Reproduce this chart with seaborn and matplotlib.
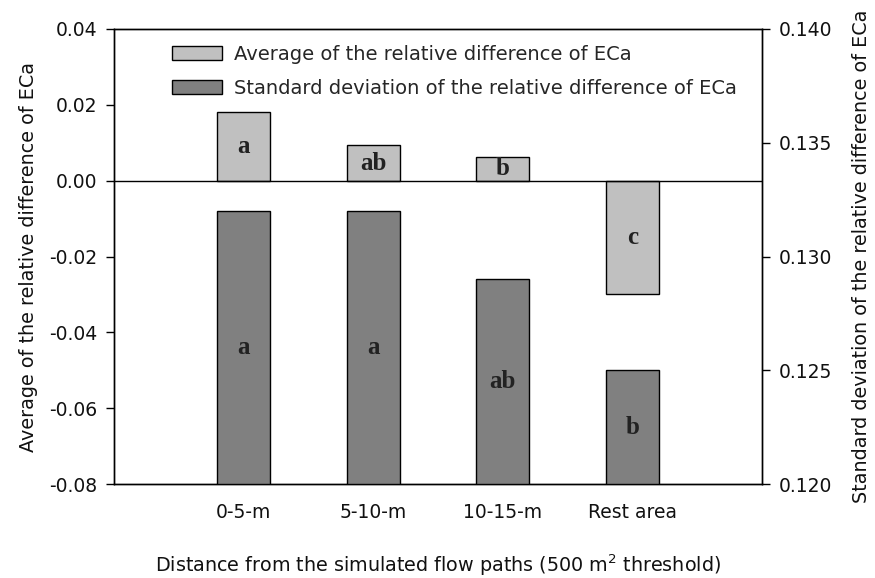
import matplotlib
matplotlib.use("Agg")
import matplotlib.pyplot as plt
import seaborn as sns
import pandas as pd
from matplotlib.patches import Patch

categories = ["0-5-m", "5-10-m", "10-15-m", "Rest area"]
avg_diff = [0.018, 0.0093, 0.0062, -0.030]
std_diff = [0.132, 0.132, 0.129, 0.125]
avg_letters = ["a", "ab", "b", "c"]
std_letters = ["a", "a", "ab", "b"]

left_ticks = [-0.08, -0.06, -0.04, -0.02, 0.00, 0.02, 0.04]
right_ticks = [0.120, 0.125, 0.130, 0.135, 0.140]

sns.set_theme(style="white")
plt.rcParams["font.family"] = ["DejaVu Sans"]

light = "#c0c0c0"
dark = "#808080"
txt = "#111111"

df = pd.DataFrame({"cat": categories, "avg": avg_diff, "std": std_diff})

fig = plt.figure(figsize=(8.75, 5.78), dpi=100)
ax = fig.add_axes([114 / 875, 1 - 484 / 578, (762 - 114) / 875, (484 - 29) / 578])
ax2 = ax.twinx()

sns.barplot(data=df, x="cat", y="avg", order=categories, color=light, saturation=1,
            width=0.41, edgecolor="black", linewidth=1.0, ax=ax, zorder=2)
sns.barplot(data=df, x="cat", y="std", order=categories, color=dark, saturation=1,
            width=0.41, edgecolor="black", linewidth=1.0, ax=ax2, zorder=2)

ax.set_xlim(-1, 4)
ax.set_ylim(-0.08, 0.04)
ax2.set_ylim(0.120, 0.140)
ax.axhline(0, color="black", linewidth=1.0, zorder=3)

ax.set_yticks(left_ticks)
ax.set_yticklabels([f"{v:.2f}" for v in left_ticks])
ax2.set_yticks(right_ticks)
ax2.set_yticklabels([f"{v:.3f}" for v in right_ticks])

for a in (ax, ax2):
    for s in a.spines.values():
        s.set_color("black")
        s.set_linewidth(1.0)
    a.tick_params(axis="both", direction="out", length=6, width=1, color="black",
                  labelsize=13.5, labelcolor=txt)
    a.grid(False)

ax.tick_params(axis="x", pad=8)
ax.tick_params(axis="y", pad=6)
ax2.tick_params(axis="y", pad=6)

ax.set_xlabel("Distance from the simulated flow paths (500 m$^2$ threshold)",
              fontsize=13.8, labelpad=22, color=txt)
ax.set_ylabel("Average of the relative difference of ECa", fontsize=13.8,
              labelpad=8, color=txt)
ax2.set_ylabel("Standard deviation of the relative difference of ECa", fontsize=13.8,
               labelpad=14, color=txt)

# significance letters centred in each bar
serif = ["Liberation Serif", "DejaVu Serif"]
for i, (v, t) in enumerate(zip(avg_diff, avg_letters)):
    ax.text(i, v / 2, t, ha="center", va="center", fontsize=18, fontweight="bold",
            family=serif, color="#222222", zorder=4)
for i, (v, t) in enumerate(zip(std_diff, std_letters)):
    ax2.text(i, (0.120 + v) / 2, t, ha="center", va="center", fontsize=18,
             fontweight="bold", family=serif, color="#222222", zorder=4)

handles = [
    Patch(facecolor=light, edgecolor="black", linewidth=1.0,
          label="Average of the relative difference of ECa"),
    Patch(facecolor=dark, edgecolor="black", linewidth=1.0,
          label="Standard deviation of the relative difference of ECa"),
]
ax2.legend(handles=handles, loc="upper left", bbox_to_anchor=(0.077, 0.982),
           frameon=False, fontsize=14, handlelength=2.6, handleheight=0.75,
           handletextpad=0.6, labelspacing=0.75, borderaxespad=0)

fig.savefig("out.png", dpi=100)
